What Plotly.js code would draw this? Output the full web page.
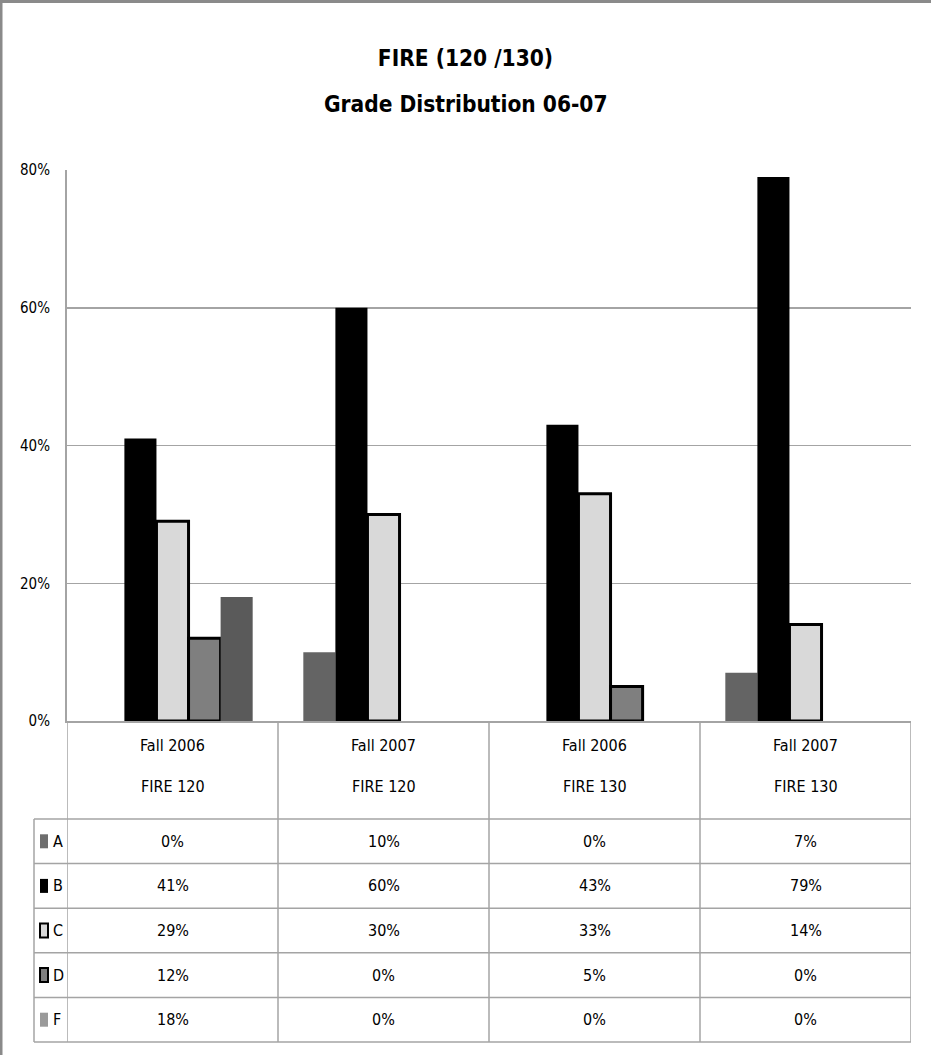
<!DOCTYPE html>
<html>
<head>
<meta charset="utf-8">
<script src="https://cdn.plot.ly/plotly-3.0.1.min.js"></script>
<style>
  html, body { margin: 0; padding: 0; background: #ffffff; }
  #chart { width: 931px; height: 1055px; }
</style>
</head>
<body>
<div id="chart"></div>
<script>
// Course sections (columns) and grade series
const terms = ['Fall 2006', 'Fall 2007', 'Fall 2006', 'Fall 2007'];
const courses = ['FIRE 120', 'FIRE 120', 'FIRE 130', 'FIRE 130'];
const grades = ['A', 'B', 'C', 'D', 'F'];

const gradeA = [0.00, 0.10, 0.00, 0.07];
const gradeB = [0.41, 0.60, 0.43, 0.79];
const gradeC = [0.29, 0.30, 0.33, 0.14];
const gradeD = [0.12, 0.00, 0.05, 0.00];
const gradeF = [0.18, 0.00, 0.00, 0.00];

const yTicks = [0, 0.2, 0.4, 0.6, 0.8];

// Styling per grade
const barColors = ['#646464', '#000000', '#d9d9d9', '#7f7f7f', '#5a5a5a'];
const keyColors = ['#6e6e6e', '#000000', '#d9d9d9', '#808080', '#9a9a9a'];
const outlined = [false, false, true, true, false];

const series = [gradeA, gradeB, gradeC, gradeD, gradeF];
const categories = terms.map((t, i) => t + ' ' + courses[i]);

const FONT = '"DejaVu Sans Condensed", "Liberation Sans Narrow", "Liberation Sans", sans-serif';
const W = 931, H = 1055;
const L = 67, R = 911, T = 170, B = 721;

// pixel -> paper helpers for the layout of the data table
const px = p => (p - L) / (R - L);
const py = p => (B - p) / (B - T);

const traces = series.map((vals, g) => ({
  type: 'bar',
  name: grades[g],
  x: categories,
  y: vals,
  marker: {
    color: barColors[g],
    // empty bars get no outline so nothing is stroked along the baseline
    line: { color: '#000000', width: vals.map(v => (outlined[g] && v > 0) ? 3 : 0) }
  },
  hoverinfo: 'skip',
  showlegend: false
}));

const gridColor = '#a4a4a4';
const shapes = [];
const annotations = [];
const cellFont = { family: FONT, size: 16, color: '#000' };
const titleFont = { family: FONT, size: 22.5, color: '#000', weight: 'bold' };

// outer chart frame (left and top edges)
shapes.push({ type: 'line', xref: 'paper', yref: 'paper', x0: px(1), x1: px(1), y0: py(0), y1: py(H), line: { color: '#8a8a8a', width: 3 } });
shapes.push({ type: 'line', xref: 'paper', yref: 'paper', x0: px(0), x1: px(W), y0: py(1.5), y1: py(1.5), line: { color: '#8a8a8a', width: 3 } });

// data table grid
const headerBottom = 819, tableBottom = 1042, keyLeft = 34;
const rowH = (tableBottom - headerBottom) / grades.length;
for (let i = 0; i <= categories.length; i++) {
  shapes.push({ type: 'line', xref: 'x', yref: 'paper', x0: i - 0.5, x1: i - 0.5, y0: py(B), y1: py(tableBottom), line: { color: gridColor, width: 1.5 } });
}
shapes.push({ type: 'line', xref: 'paper', yref: 'paper', x0: px(keyLeft), x1: px(keyLeft), y0: py(headerBottom), y1: py(tableBottom), line: { color: gridColor, width: 1.5 } });
for (let r = 0; r <= grades.length; r++) {
  const yy = headerBottom + r * rowH;
  shapes.push({ type: 'line', xref: 'paper', yref: 'paper', x0: px(keyLeft), x1: px(R), y0: py(yy), y1: py(yy), line: { color: gridColor, width: 1.5 } });
}

// header labels
categories.forEach((c, i) => {
  annotations.push({ xref: 'x', yref: 'paper', x: c, y: py(745), text: terms[i], showarrow: false, font: cellFont, xanchor: 'center', yanchor: 'middle' });
  annotations.push({ xref: 'x', yref: 'paper', x: c, y: py(786), text: courses[i], showarrow: false, font: cellFont, xanchor: 'center', yanchor: 'middle' });
});

// value rows with legend keys
series.forEach((vals, g) => {
  const yc = headerBottom + (g + 0.5) * rowH;
  shapes.push({
    type: 'rect', xref: 'paper', yref: 'paper',
    x0: px(40), x1: px(48), y0: py(yc - 7), y1: py(yc + 7),
    fillcolor: keyColors[g],
    line: { color: outlined[g] ? '#000000' : keyColors[g], width: outlined[g] ? 2 : 0 }
  });
  annotations.push({ xref: 'paper', yref: 'paper', x: px(51), y: py(yc), text: grades[g], showarrow: false, xanchor: 'left', yanchor: 'middle', font: cellFont });
  vals.forEach((v, i) => {
    annotations.push({ xref: 'x', yref: 'paper', x: categories[i], y: py(yc), text: Math.round(v * 100) + '%', showarrow: false, xanchor: 'center', yanchor: 'middle', font: cellFont });
  });
});

// second title line
annotations.push({ xref: 'paper', yref: 'paper', x: px(W / 2), y: py(104), text: 'Grade Distribution 06-07', showarrow: false, xanchor: 'center', yanchor: 'middle', font: titleFont });

const layout = {
  width: W,
  height: H,
  margin: { l: L, r: W - R, t: T, b: H - B, pad: 0 },
  paper_bgcolor: '#ffffff',
  plot_bgcolor: '#ffffff',
  title: {
    text: 'FIRE (120 /130)',
    font: titleFont,
    xref: 'container', x: 0.5, xanchor: 'center',
    yref: 'container', y: 1 - 58 / H, yanchor: 'middle'
  },
  barmode: 'group',
  bargap: 0.24,
  bargroupgap: 0,
  xaxis: {
    type: 'category',
    showticklabels: false,
    showgrid: false,
    zeroline: false,
    showline: true,
    linecolor: gridColor,
    linewidth: 2,
    ticks: '',
    range: [-0.5, 3.5],
    fixedrange: true
  },
  yaxis: {
    range: [0, 0.8],
    tickvals: yTicks,
    tickformat: '.0%',
    showgrid: true,
    gridcolor: gridColor,
    gridwidth: 1.5,
    zeroline: false,
    showline: true,
    linecolor: gridColor,
    linewidth: 2,
    ticks: '',
    ticklabelstandoff: 12,
    tickfont: { family: FONT, size: 15, color: '#000' },
    fixedrange: true
  },
  shapes: shapes,
  annotations: annotations,
  hovermode: false
};

Plotly.newPlot('chart', traces, layout, { displayModeBar: false, staticPlot: true });
</script>
</body>
</html>
